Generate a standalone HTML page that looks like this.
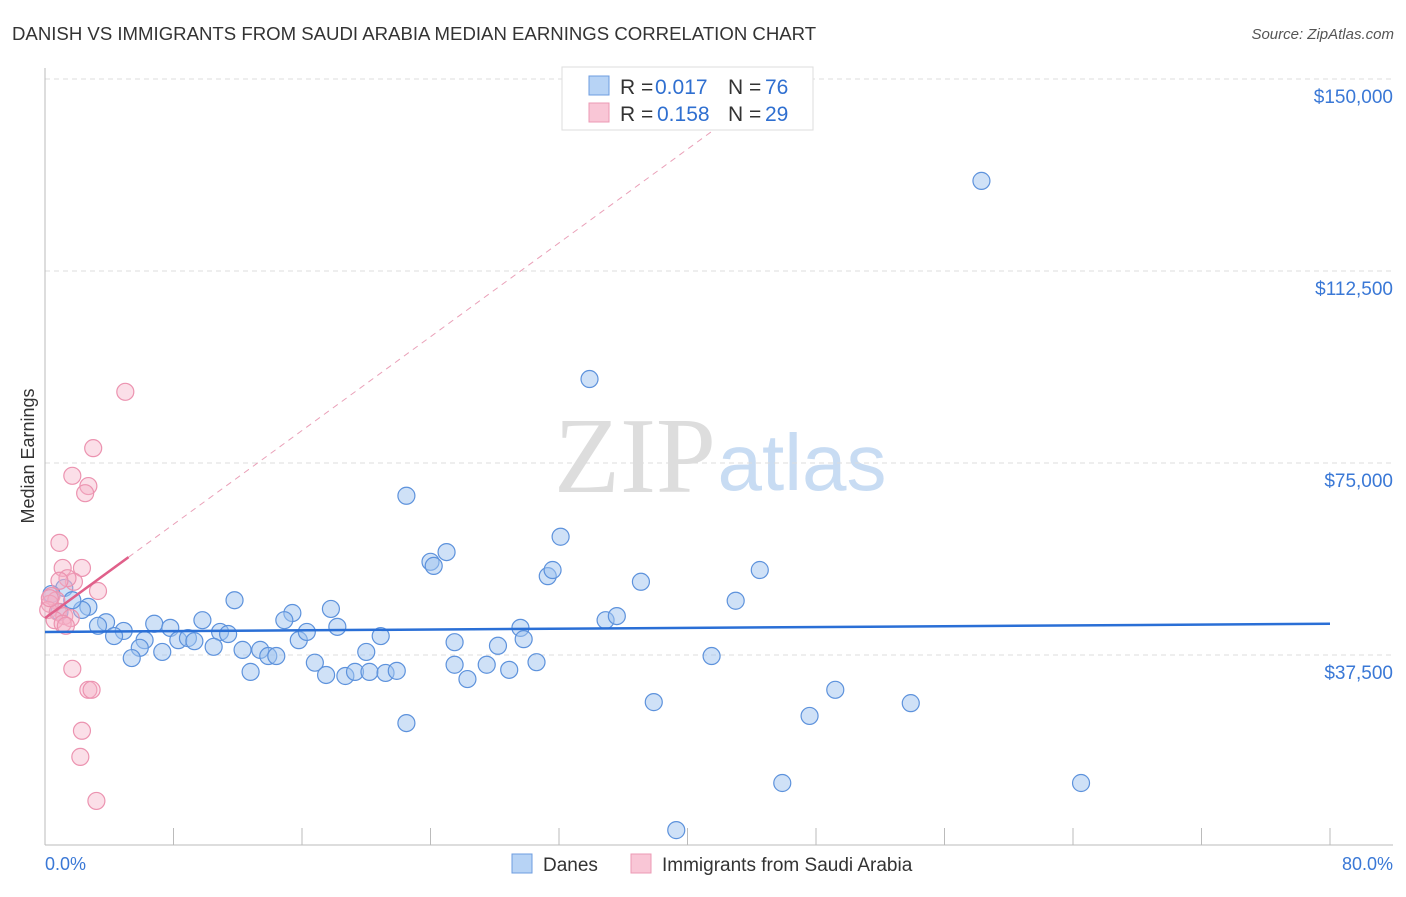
<!DOCTYPE html>
<html><head><meta charset="utf-8"><style>
body{margin:0;background:#fff;font-family:"Liberation Sans",sans-serif;}
</style></head><body>
<svg width="1406" height="892" xmlns="http://www.w3.org/2000/svg" id="chart">
<text x="12" y="40" font-size="18.6" fill="#333">DANISH VS IMMIGRANTS FROM SAUDI ARABIA MEDIAN EARNINGS CORRELATION CHART</text>
<text x="1394" y="39" font-size="15" fill="#555" font-style="italic" text-anchor="end">Source: ZipAtlas.com</text>
<g>
<text x="635" y="492" font-size="108" fill="#ddd" font-family="Liberation Serif,serif" text-anchor="middle">ZIP</text>
<text x="802" y="490" font-size="80" fill="#c8dcf3" text-anchor="middle">atlas</text>
</g>
<g id="grid"></g><g id="marks"></g>
<text transform="translate(34,456) rotate(-90)" font-size="18" fill="#333" text-anchor="middle">Median Earnings</text>
<g font-size="21">
<rect x="562" y="67" width="251" height="63" fill="#fff" stroke="#ddd"/>
<rect x="589" y="76" width="20" height="19" fill="#b7d3f5" stroke="#6d9de0"/>
<text x="620" y="94" fill="#333">R =</text>
<text x="655" y="94" fill="#2f6fd0">0.017</text>
<text x="728" y="94" fill="#333">N =</text>
<text x="765" y="94" fill="#2f6fd0">76</text>
<rect x="589" y="103" width="20" height="19" fill="#f9c6d6" stroke="#ec9ab4"/>
<text x="620" y="121" fill="#333">R =</text>
<text x="657" y="121" fill="#2f6fd0">0.158</text>
<text x="728" y="121" fill="#333">N =</text>
<text x="765" y="121" fill="#2f6fd0">29</text>
</g>
<g>
<rect x="512" y="854" width="20" height="19" fill="#b7d3f5" stroke="#6d9de0"/>
<text x="543" y="871" font-size="19" fill="#333">Danes</text>
<rect x="631" y="854" width="20" height="19" fill="#f9c6d6" stroke="#ec9ab4"/>
<text x="662" y="871" font-size="19" fill="#333">Immigrants from Saudi Arabia</text>
</g>
<text x="45" y="870" font-size="18" fill="#3a78d6">0.0%</text>
<text x="1393" y="870" font-size="18" fill="#3a78d6" text-anchor="end">80.0%</text>
</svg>
<script>
const yTicks=[37500,75000,112500,150000];
const yTickLabels=["$37,500","$75,000","$112,500","$150,000"];
const xTicks=[0,8,16,24,32,40,48,56,64,72,80];
const danesX=[58.3,33.9,22.5,32.1,25.0,24.0,24.2,31.3,31.6,37.1,44.5,43.0,11.8,15.4,17.8,14.9,9.8,6.8,7.8,3.8,2.7,2.3,1.2,1.7,0.4,3.3,4.9,4.3,6.2,8.3,8.9,9.3,10.9,11.4,10.5,12.3,13.4,13.9,14.4,15.8,16.3,18.2,20.9,20.0,25.5,28.2,29.6,29.8,34.9,35.6,5.9,5.4,7.3,12.8,16.8,17.5,18.7,19.3,20.2,21.2,21.9,25.5,26.3,27.5,28.9,30.6,41.5,22.5,37.9,49.2,53.9,47.6,45.9,64.5,39.3,0.9];
const danesY=[130.1,91.4,68.6,60.6,57.6,55.7,54.9,52.9,54.1,51.8,54.1,48.1,48.2,45.7,46.5,44.3,44.3,43.6,42.8,43.9,46.9,46.3,50.6,48.2,49.4,43.2,42.2,41.2,40.4,40.4,40.8,40.2,42.0,41.6,39.1,38.5,38.5,37.3,37.3,40.4,42.0,43.0,41.2,38.1,40.0,39.3,42.8,40.6,44.3,45.1,38.9,36.9,38.1,34.2,36.0,33.6,33.4,34.2,34.2,34.0,34.4,35.6,32.8,35.6,34.6,36.1,37.3,24.2,28.3,30.7,28.1,25.6,12.5,12.5,3.3,45.9];
const saudiX=[5.0,3.0,1.7,2.7,2.5,0.9,2.3,1.1,1.8,1.4,0.9,3.3,0.4,0.7,0.3,0.2,0.8,1.2,1.6,0.6,1.1,1.3,1.7,2.7,2.9,2.3,2.2,3.2,0.3];
const saudiY=[88.9,77.9,72.5,70.5,69.1,59.4,54.5,54.5,51.8,52.5,52.0,50.0,49.0,48.2,47.5,46.3,45.9,45.1,44.7,44.3,43.6,43.2,34.8,30.7,30.7,22.7,17.6,9.0,48.6];
const danesTrend=[42.0,43.6];
const saudiTrend=[44.7,2.29];
const saudiSolidEnd=5.2;

const NS="http://www.w3.org/2000/svg";
const X0=45,X1=1330,Y0=847,YTOP=79;
const sx=v=>X0+(v/80)*(X1-X0);
const sy=v=>Y0-(v/150000)*(Y0-YTOP);
const syk=k=>sy(k*1000);
function mk(t,a,p){const e=document.createElementNS(NS,t);for(const k in a)e.setAttribute(k,a[k]);p.appendChild(e);return e;}
const grid=document.getElementById('grid'),marks=document.getElementById('marks');
yTicks.forEach((t,i)=>{
 const g=mk('line',{x1:X0,x2:1393,y1:sy(t),y2:sy(t),stroke:'#ddd','stroke-dasharray':'5,4'},grid);
 
 
 const l=mk('text',{x:1393,y:sy(t)+24,'font-size':19,fill:'#3a78d6','text-anchor':'end'},grid);
 l.textContent=yTickLabels[i];
 
 
});
const ax=mk('line',{x1:X0,x2:X0,y1:68,y2:845,stroke:'#bbb'},grid);


const xa=mk('line',{x1:X0,x2:1393,y1:845,y2:845,stroke:'#bbb'},grid);


xTicks.forEach(t=>{
 const k=mk('line',{x1:sx(t),x2:sx(t),y1:828,y2:845,stroke:'#bbb'},grid);
 
 
});
danesX.forEach((x,i)=>{
 const c=mk('circle',{cx:sx(x),cy:syk(danesY[i]),r:8.5,fill:'rgba(160,196,240,0.5)',stroke:'#5d92dc','stroke-width':1.2},marks);
 
 
});
saudiX.forEach((x,i)=>{
 const c=mk('circle',{cx:sx(x),cy:syk(saudiY[i]),r:8.5,fill:'rgba(246,175,198,0.4)',stroke:'#ec93b0','stroke-width':1.2},marks);
 
 
});
const bt=mk('line',{x1:sx(0),x2:sx(80),y1:syk(danesTrend[0]),y2:syk(danesTrend[1]),stroke:'#2a6fd6','stroke-width':2.5},marks);


const xEnd=(150-saudiTrend[0])/saudiTrend[1];
const pd=mk('line',{x1:sx(saudiSolidEnd),x2:sx(xEnd),y1:syk(saudiTrend[0]+saudiTrend[1]*saudiSolidEnd),y2:syk(150),stroke:'#eaa0b8','stroke-width':1,'stroke-dasharray':'6,5'},marks);


const ps=mk('line',{x1:sx(0),x2:sx(saudiSolidEnd),y1:syk(saudiTrend[0]),y2:syk(saudiTrend[0]+saudiTrend[1]*saudiSolidEnd),stroke:'#e0608a','stroke-width':2.5},marks);


</script>
</body></html>
